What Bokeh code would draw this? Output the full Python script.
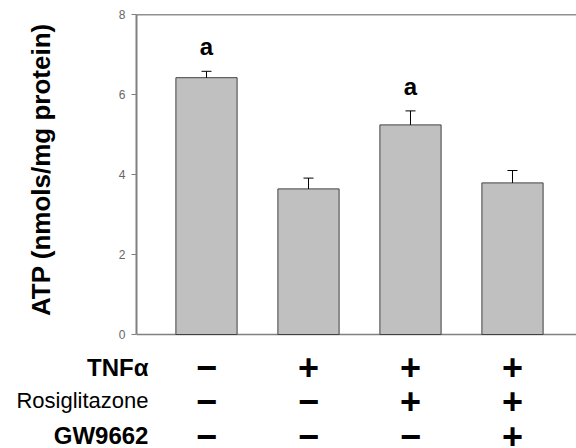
import math
from bokeh.plotting import figure
from bokeh.models import Range1d, FixedTicker
from bokeh.core.properties import value
from bokeh.embed import file_html
from bokeh.resources import INLINE

# ---- data ----
groups = [1, 2, 3, 4]
atp = [6.42, 3.64, 5.24, 3.79]
sem = [0.16, 0.27, 0.35, 0.31]
sig_letters = ["a", "", "a", ""]
row_names = ["TNFα", "Rosiglitazone", "GW9662"]
tnf = ["−", "+", "+", "+"]
rosiglitazone = ["−", "−", "+", "+"]
gw9662 = ["−", "−", "−", "+"]
y_ticks = [0, 2, 4, 6, 8]
y_title = "ATP (nmols/mg protein)"

FONT = "Liberation Sans"

p = figure(width=576, height=448, output_backend="svg", toolbar_location=None,
           x_range=Range1d(0.3137, 4.6275), y_range=Range1d(-2.85, 8),
           min_border_left=136, min_border_right=0, min_border_top=14, min_border_bottom=0,
           x_axis_location=None, y_axis_location="left")
p.outline_line_color = None
p.grid.visible = False

ax = p.yaxis[0]
ax.bounds = (0, 8)
ax.ticker = FixedTicker(ticks=y_ticks)
ax.axis_line_color = "#808080"
ax.axis_line_width = 2
ax.major_tick_line_color = "#808080"
ax.major_tick_out = 5
ax.major_tick_in = 0
ax.minor_tick_line_color = None
ax.major_label_text_font = FONT
ax.major_label_text_font_size = "12px"
ax.major_label_text_color = "#666666"
ax.major_label_standoff = 6

# top line (at the axis maximum) and baseline
p.hspan(y=[y_ticks[-1]], line_color="#222222", line_width=1.5)
p.hspan(y=[y_ticks[0]], line_color="#808080", line_width=1.5)

# bars
p.vbar(x=groups, top=atp, bottom=0, width=0.6, fill_color="#c0c0c0",
       line_color="#404040", line_width=1)

# error bars (upper only)
upper = [a + s for a, s in zip(atp, sem)]
p.segment(x0=groups, y0=atp, x1=groups, y1=upper, line_color="black", line_width=1)
p.scatter(x=groups, y=upper, marker="dash", size=10, line_color="black", line_width=1)

# significance letters
letter_y = [u + 0.62 for u in upper]
p.text(x=groups, y=letter_y, text=sig_letters, text_font=value(FONT),
       text_font_style="bold", text_font_size="24px", text_align="center",
       text_baseline="middle", text_color="black")

# y-axis title (drawn as text so it can be centred on the 0..8 span)
yt = p.text(x=[-0.627], y=[4.12], text=[y_title], angle=math.pi / 2,
            text_font=value(FONT), text_font_style="bold", text_font_size="26px",
            text_align="center", text_baseline="middle", text_color="black")
yt.level = "overlay"

# treatment table below the axis
row_y = [-0.82, -1.65, -2.53]
label_x = 0.431
row_styles = ["bold", "normal", "bold"]
row_sizes = ["24px", "22px", "24px"]
for name, yy, st, sz in zip(row_names, row_y, row_styles, row_sizes):
    r = p.text(x=[label_x], y=[yy], text=[name], text_font=value(FONT),
               text_font_style=st, text_font_size=sz, text_align="right",
               text_baseline="middle", text_color="black")
    r.level = "overlay"

for signs, yy in zip([tnf, rosiglitazone, gw9662], row_y):
    p.text(x=groups, y=[yy] * len(groups), text=signs, text_font=value(FONT),
           text_font_style="bold", text_font_size="36px", text_align="center",
           text_baseline="middle", text_color="black")

open("out.html", "w").write(file_html(p, INLINE))
